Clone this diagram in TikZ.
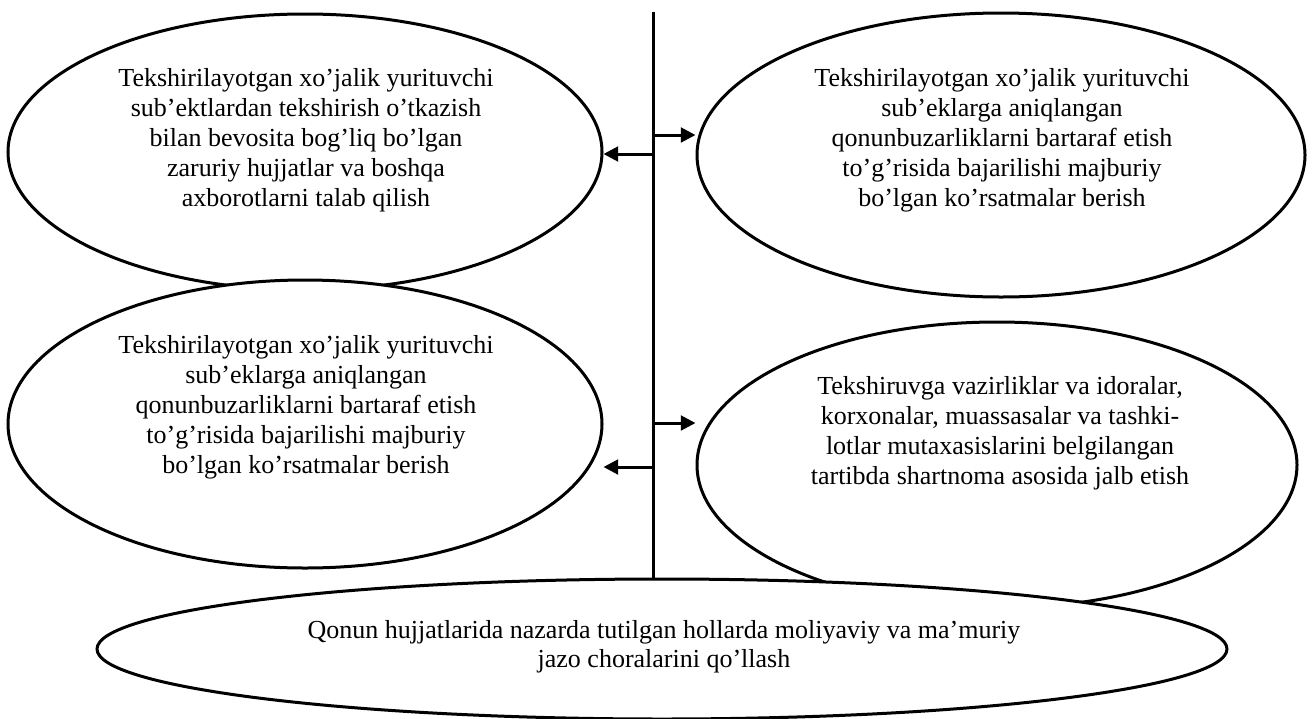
\documentclass[tikz,border=0pt]{standalone}
\usepackage{fontspec}
\setmainfont{Liberation Serif}
\usetikzlibrary{shapes.geometric,arrows.meta}
\begin{document}
\begin{tikzpicture}[x=0.75pt,y=-0.75pt,
  oval/.style={draw=black,line width=2.25pt,ellipse,inner sep=0pt,fill=white},
  txt/.style={align=center,inner sep=0pt,font=\fontsize{19.5pt}{22.5pt}\selectfont},
  arr/.style={line width=2.25pt,-{Triangle[length=11pt,width=11pt]}}]
\useasboundingbox (0,0) rectangle (1314,718);

% upper pair of ovals
\node[oval,minimum width=445.5pt,minimum height=207pt] (tl) at (305,152) {};
\node[txt] (tltext) at (306,140) {Tekshirilayotgan xo’jalik yurituvchi\\sub’ektlardan tekshirish o’tkazish\\bilan bevosita bog’liq bo’lgan\\zaruriy hujjatlar va boshqa\\axborotlarni talab qilish};

\node[oval,minimum width=456pt,minimum height=213pt] (tr) at (1001,155) {};
\node[txt] (trtext) at (1002,140) {Tekshirilayotgan xo’jalik yurituvchi\\sub’eklarga aniqlangan\\qonunbuzarliklarni bartaraf etish\\to’g’risida bajarilishi majburiy\\bo’lgan ko’rsatmalar berish};

% lower pair of ovals
\node[oval,minimum width=445.5pt,minimum height=216pt] (ml) at (305,424) {};
\node[txt] (mltext) at (306,407) {Tekshirilayotgan xo’jalik yurituvchi\\sub’eklarga aniqlangan\\qonunbuzarliklarni bartaraf etish\\to’g’risida bajarilishi majburiy\\bo’lgan ko’rsatmalar berish};

\node[oval,minimum width=450pt,minimum height=214.5pt] (mr) at (997,465) {};
\node[txt] (mrtext) at (1000,433) {Tekshiruvga vazirliklar va idoralar,\\korxonalar, muassasalar va tashki-\\lotlar mutaxasislarini belgilangan\\tartibda shartnoma asosida jalb etish};

% central axis and its branches
\coordinate (axtop) at (653,12);
\coordinate (axbot) at (653,580);
\draw[line width=2.25pt] (axtop) -- (axbot);

\coordinate (b1) at (653,154);
\coordinate (b2) at (653,135);
\coordinate (b3) at (653,423);
\coordinate (b4) at (653,467);
\draw[arr] (b1) -- (b1 -| tl.east);
\draw[arr] (b2) -- (b2 -| tr.west);
\draw[arr] (b3) -- (b3 -| mr.west);
\draw[arr] (b4) -- (b4 -| ml.east);

% bottom oval
\node[oval,minimum width=847.5pt,minimum height=105pt] (bt) at (662,649) {};
\node[txt,font=\fontsize{19.5pt}{21.75pt}\selectfont] (bttext) at (664,647) {Qonun hujjatlarida nazarda tutilgan hollarda moliyaviy va ma’muriy\\jazo choralarini qo’llash};
\end{tikzpicture}
\end{document}
